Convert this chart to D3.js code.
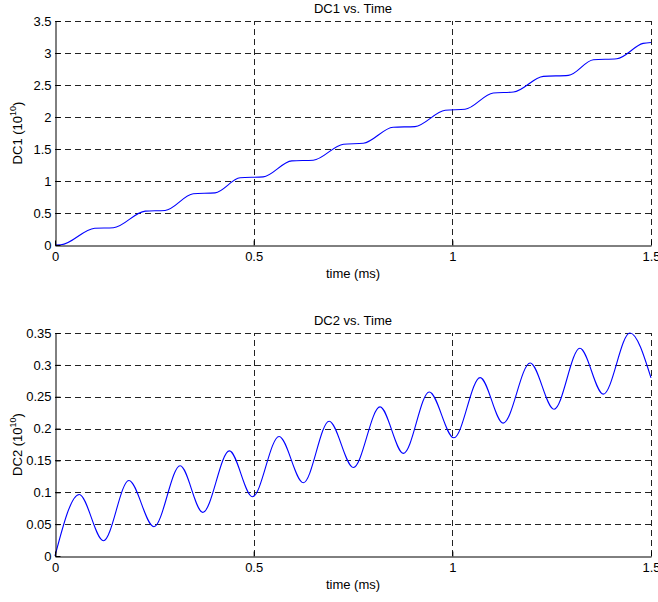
<!DOCTYPE html>
<html lang="en">
<head>
    <meta charset="UTF-8">
    <title>DC1 / DC2 vs. Time</title>
    <script src="https://d3js.org/d3.v7.min.js"></script>
    <style>
        body {
            margin: 0;
            background-color: white;
        }
        svg text {
            font-family: Arial, "Liberation Sans", sans-serif;
            fill: #000;
        }
    </style>
</head>
<body>
    <div id="chart"></div>
    <script>
        // Values
        const xTicks = [0, 0.5, 1, 1.5];
        const xTickLabels = ["0", "0.5", "1", "1.5"];

        const dc1Ticks = [0, 0.5, 1, 1.5, 2, 2.5, 3, 3.5];
        const dc1TickLabels = ["0", "0.5", "1", "1.5", "2", "2.5", "3", "3.5"];
        const dc1Time = [0, 0.015, 0.10, 0.147, 0.227, 0.277, 0.348, 0.403, 0.466, 0.524,
                         0.596, 0.650, 0.726, 0.776, 0.851, 0.906, 0.982, 1.032, 1.103, 1.154,
                         1.229, 1.292, 1.355, 1.414, 1.48, 1.5];
        const dc1Value = [0, 0.003, 0.262, 0.27, 0.53, 0.54, 0.80, 0.815, 1.05, 1.065,
                          1.315, 1.325, 1.575, 1.59, 1.84, 1.85, 2.105, 2.12, 2.375, 2.39,
                          2.635, 2.65, 2.895, 2.91, 3.15, 3.165];

        const dc2Ticks = [0, 0.05, 0.1, 0.15, 0.2, 0.25, 0.3, 0.35];
        const dc2TickLabels = ["0", "0.05", "0.1", "0.15", "0.2", "0.25", "0.3", "0.35"];
        const dc2Time = [0, 0.061, 0.122, 0.186, 0.249, 0.315, 0.372, 0.439, 0.497, 0.564,
                         0.625, 0.690, 0.751, 0.818, 0.877, 0.942, 1.004, 1.070, 1.128, 1.196,
                         1.256, 1.321, 1.380, 1.447, 1.5];
        const dc2Value = [0, 0.0965, 0.024, 0.1186, 0.046, 0.1416, 0.0685, 0.165, 0.093, 0.1876,
                          0.115, 0.2116, 0.139, 0.234, 0.161, 0.2575, 0.1855, 0.280, 0.2085, 0.303,
                          0.2304, 0.326, 0.254, 0.350, 0.2795];

        const W = 658, H = 602;
        const fontSize = "13px";
        const svg = d3.select("#chart")
          .append("svg")
            .attr("width", W)
            .attr("height", H);

        function drawPanel(cfg) {
            const x = d3.scaleLinear().domain([0, 1.5]).range([55, 651]);
            const y = d3.scaleLinear().domain(cfg.yDomain).range([cfg.bottom, cfg.top]);
            const g = svg.append("g");

            // dashed grid
            g.selectAll(".hgrid")
                .data(cfg.yTicks.filter(d => d !== 0))
                .enter().append("line")
                .attr("x1", x(0)).attr("x2", x(1.5))
                .attr("y1", d => Math.round(y(d)) + 0.5)
                .attr("y2", d => Math.round(y(d)) + 0.5)
                .attr("stroke", "#222")
                .attr("stroke-dasharray", "6,4");

            g.selectAll(".vgrid")
                .data(xTicks.filter(d => d !== 0))
                .enter().append("line")
                .attr("x1", d => Math.round(x(d)) + 0.5)
                .attr("x2", d => Math.round(x(d)) + 0.5)
                .attr("y1", cfg.bottom).attr("y2", cfg.top)
                .attr("stroke", "#222")
                .attr("stroke-dasharray", "6,4");

            // data line
            const line = d3.line()
                .x(d => x(d[0]))
                .y(d => y(d[1]))
                .curve(d3.curveMonotoneX);

            g.append("path")
                .datum(cfg.time.map((t, i) => [t, cfg.values[i]]))
                .attr("fill", "none")
                .attr("stroke", "#0000ff")
                .attr("stroke-width", 1.1)
                .attr("d", line);

            // axes (MATLAB style, ticks pointing inward)
            const xAxis = d3.axisBottom(x)
                .tickValues(xTicks)
                .tickFormat((d, i) => xTickLabels[i])
                .tickSizeInner(-5)
                .tickSizeOuter(0)
                .tickPadding(6);
            const xg = g.append("g")
                .attr("transform", `translate(0,${cfg.bottom + 0.5})`)
                .call(xAxis);

            const yAxis = d3.axisLeft(y)
                .tickValues(cfg.yTicks)
                .tickFormat((d, i) => cfg.yTickLabels[i])
                .tickSizeInner(-5)
                .tickSizeOuter(0)
                .tickPadding(4);
            const yg = g.append("g")
                .attr("transform", `translate(${x(0) + 0.5},0)`)
                .call(yAxis);

            [xg, yg].forEach(a => {
                a.selectAll("text").style("font-size", fontSize).attr("fill", "#000");
                a.select(".domain").attr("stroke", "#000");
                a.selectAll(".tick line").attr("stroke", "#000");
            });
            xg.selectAll("text").attr("dy", "0.71em");

            // title
            g.append("text")
                .attr("x", (x(0) + x(1.5)) / 2)
                .attr("y", cfg.top - 8)
                .attr("text-anchor", "middle")
                .style("font-size", fontSize)
                .text(cfg.title);

            // x label
            g.append("text")
                .attr("x", (x(0) + x(1.5)) / 2)
                .attr("y", cfg.bottom + 33)
                .attr("text-anchor", "middle")
                .style("font-size", fontSize)
                .text("time (ms)");

            // y label with superscript
            const yl = g.append("text")
                .attr("transform", `translate(22,${(cfg.top + cfg.bottom) / 2}) rotate(-90)`)
                .attr("text-anchor", "middle")
                .style("font-size", fontSize);
            yl.append("tspan").text(cfg.yLabel + " (10");
            yl.append("tspan").attr("dy", -6).style("font-size", "9px").text("10");
            yl.append("tspan").attr("dy", 6).text(")");
        }

        drawPanel({
            title: "DC1 vs. Time",
            yLabel: "DC1",
            yDomain: [0, 3.5],
            yTicks: dc1Ticks,
            yTickLabels: dc1TickLabels,
            time: dc1Time,
            values: dc1Value,
            top: 21,
            bottom: 245
        });

        drawPanel({
            title: "DC2 vs. Time",
            yLabel: "DC2",
            yDomain: [0, 0.35],
            yTicks: dc2Ticks,
            yTickLabels: dc2TickLabels,
            time: dc2Time,
            values: dc2Value,
            top: 333,
            bottom: 556
        });
    </script>
</body>
</html>
